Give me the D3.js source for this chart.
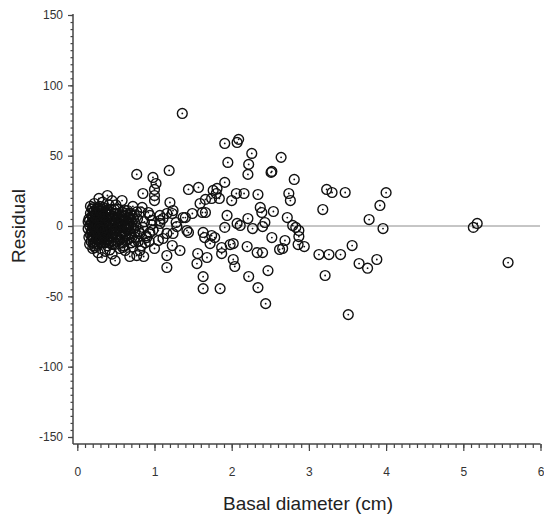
<!DOCTYPE html>
<html>
<head>
<meta charset="utf-8">
<script src="https://cdn.jsdelivr.net/npm/d3@7"></script>
<style>
  body { margin: 0; background: #fff; }
  text { font-family: "Liberation Sans", Arial, sans-serif; }
</style>
</head>
<body>
<svg id="chart" width="544" height="517"></svg>
<script>
'use strict';
var width = 544, height = 517;

// axis ticks
var xTicks = [0, 1, 2, 3, 4, 5, 6],
    yTicks = [-150, -100, -50, 0, 50, 100, 150];

// [basal diameter (cm), residual]
var denseCore = [
  [0.18,2],[0.19,-3],[0.2,6],[0.2,-8],[0.21,10],[0.21,0],[0.22,-5],[0.22,4],[0.23,-11],[0.23,8],
  [0.24,1],[0.24,-2],[0.25,12],[0.25,-7],[0.26,5],[0.26,-13],[0.27,-1],[0.27,9],[0.28,3],[0.28,-9],
  [0.29,-4],[0.29,14],[0.3,0],[0.3,7],[0.31,-6],[0.31,11],[0.32,2],[0.32,-10],[0.33,-2],[0.33,5],
  [0.34,13],[0.34,-8],[0.35,1],[0.35,-4],[0.36,9],[0.36,-12],[0.37,3],[0.37,-1],[0.38,6],[0.38,-6],
  [0.39,-14],[0.39,11],[0.4,0],[0.4,-9],[0.41,4],[0.41,15],[0.42,-3],[0.42,8],[0.43,-7],[0.43,1],
  [0.44,12],[0.44,-11],[0.45,5],[0.45,-2],
  [0.2,-1],[0.22,1],[0.24,-6],[0.26,-3],[0.28,6],[0.3,-7],[0.32,9],[0.34,-1],[0.36,3],[0.38,-10],
  [0.19,7],[0.21,-9],[0.23,3],[0.25,-4],[0.27,13],[0.29,1],[0.31,-12],[0.33,7],[0.35,-7],[0.37,10],
  [0.17,-6],[0.17,9],[0.16,0],[0.16,4],[0.18,-11],[0.19,12],
  [0.14,-2],[0.15,5],[0.15,-8],[0.14,3],[0.16,-13],[0.17,14],
  [0.18,-4],[0.2,3],[0.21,-12],[0.22,11],[0.23,-2],[0.24,6],[0.25,-9],[0.26,1],[0.27,-5],[0.28,11],
  [0.29,-11],[0.3,4],[0.31,-2],[0.32,-6],[0.33,12],[0.34,3],[0.35,-10],[0.36,-3],[0.37,6],[0.38,1],
  [0.39,-5],[0.4,9],[0.41,-12],[0.42,2],[0.43,10],[0.44,-4],[0.45,-8],[0.46,7],[0.46,-13],[0.47,0],
  [0.48,-3],[0.48,12],[0.49,4],[0.5,-6],[0.51,9],[0.52,-1],[0.53,-9],[0.54,2],[0.55,7],[0.57,0],
  [0.19,-7],[0.2,13],[0.22,-14],[0.24,9],[0.26,-10],[0.28,-1],[0.3,10],[0.32,-3],[0.34,7],[0.36,-8],
  [0.55,-3],[0.57,8],[0.58,-8],[0.6,4],[0.61,-4],[0.62,11],[0.64,-10],[0.65,2],[0.67,-6],[0.68,9],
  [0.7,-1],[0.71,-8],[0.73,5],[0.75,-4],[0.77,10],[0.58,3],[0.63,-1],[0.66,6],[0.7,8],[0.74,-11]
];

var clusterEdge = [
  [0.28,19.6],[0.39,21.7],[0.22,16],[0.33,17],[0.45,18],[0.5,15],[0.58,18.1],
  [0.2,-16],[0.23,-15.3],[0.27,-19],[0.32,-22.4],[0.36,-18],[0.42,-17],[0.49,-24.6],[0.45,-20],
  [0.55,-16],[0.59,-15.3],[0.62,-17.4],[0.68,-21.7],[0.77,-21],[0.81,-17.4],[0.86,-21.7],
  [0.47,-5],[0.48,9],[0.49,-13],[0.5,2],[0.51,-8],[0.52,12],[0.53,-1],[0.54,6],[0.55,-10],[0.56,3],
  [0.57,-4],[0.58,10],[0.59,-12],[0.6,0],[0.61,7],[0.62,-7],[0.63,4],[0.64,-2],[0.65,11],[0.66,-9],
  [0.67,1],[0.68,6],[0.69,-5],[0.7,-12],[0.71,3],[0.72,13.9],[0.73,-2],[0.74,8],[0.75,-8],[0.76,0],
  [0.5,-3],[0.53,5],[0.56,-6],[0.6,-14],[0.63,9],[0.66,-1],[0.69,4],[0.47,3],[0.52,-11],
  [0.78,5],[0.8,-4],[0.82,10],[0.84,13.2],[0.85,-1],[0.87,3],[0.89,-7],[0.9,-8.2],[0.92,9.6],[0.94,7.5],
  [0.94,-4.6],[0.96,1],[0.81,-5.3],[0.98,-3],[0.79,-11],[0.83,-14],[0.88,-12],[0.93,-11],[0.97,4],[0.72,-15]
];

var midRange = [
  [0.77,36.7],[1.19,39.5],[0.98,34.5],[1.02,30.2],[1.0,26],[1.0,21.7],[1.0,18.1],[0.85,23.1],
  [1.44,26],[1.57,27.4],[1.76,25.3],[1.8,23.1],[1.74,19.6],[1.84,19.6],[1.81,26.7],[1.66,18.9],
  [1.59,16],[1.2,16.7],[1.24,11],[1.23,8.9],[1.07,7.5],[1.49,8.9],[1.37,6],[1.62,9.6],[1.66,9.6],
  [2.07,1.8],[1.11,5.3],[1.07,1.8],[1.29,-0.4],[1.42,-3.2],[1.44,-4.6],[1.24,-5.3],[1.16,-5.3],
  [1.63,-4.6],[1.65,-8.2],[1.74,-6.8],[1.78,-8.2],[1.72,-12.5],[1.05,-10.3],[1.0,-16],[1.23,-13.9],
  [1.33,-17.4],[1.16,-21],[1.16,-29.5],[1.56,-19.6],[1.68,-22.4],[1.55,-26.7],[1.63,-36],[1.63,-44.5],
  [1.36,80],[1.16,8.9],[1.28,2.5],[1.4,6],[1.07,3.9],[1.05,-3.2],[1.11,-8.9],
  [1.91,58.7],[2.07,59.4],[2.09,61.6],[2.26,51.6],[1.95,45.2],[2.22,43.8],[2.21,36.7],[2.64,48.8],
  [2.52,38.8],[2.51,38.1],[2.81,33.1],[1.91,31],[2.06,23.1],[2.16,23.1],[2.34,22.4],[2.0,18.1],
  [2.74,23.1],[2.76,18.1],[1.94,7.5],[2.37,13.2],[2.39,9.6],[2.54,10.3],[2.72,6],[2.21,5.3],
  [2.43,2.5],[2.11,0.4],[1.91,-1],[2.27,-1.8],[2.4,-0.4],[2.79,0.4],[2.83,-1],[2.87,-3.2],
  [2.87,-7.5],[2.52,-8.2],[2.69,-10.3],[2.86,-13.2],[2.94,-14.6],[2.02,-12.5],[1.98,-13.2],
  [2.2,-14.6],[2.33,-18.9],[2.4,-18.9],[2.62,-16.7],[2.66,-16],[1.87,-15.3],[1.87,-19.6],
  [2.02,-23.8],[2.04,-28.8],[2.47,-31.7],[2.22,-35.9],[2.34,-43.8],[1.85,-44.5],[2.44,-55.2]
];

var largeStems = [
  [4.0,23.7],[3.92,14.6],[3.78,4.6],[3.96,-1.8],[3.56,-13.9],[3.88,-23.8],[3.76,-30],[3.65,-26.7],
  [3.47,23.8],[3.30,23.8],[3.23,26],[3.18,11.7],[3.13,-20.3],[3.26,-20.3],[3.41,-20.3],[3.21,-35.2],
  [3.51,-63],[5.18,1.8],[5.13,-1],[5.58,-26]
];

var observations = denseCore.concat(clusterEdge, midRange, largeStems);

var svg = d3.select('#chart');

var x = d3.scaleLinear().domain([0, 6]).range([77.3, 540.5]),
    y = d3.scaleLinear().domain([-150, 150]).range([437, 15]);

var axisLeftX = 73, axisBottomY = 444;
var axisColor = '#444';
var plainFormat = d => String(d);

// zero reference line
svg.append('line')
   .attr('x1', axisLeftX).attr('x2', 540)
   .attr('y1', y(0)).attr('y2', y(0))
   .attr('stroke', '#8c8c8c')
   .attr('stroke-width', 1);

// points: open circle with a dot in the middle
var pts = svg.append('g')
   .selectAll('g')
   .data(observations)
   .enter()
   .append('g')
   .attr('transform', d => 'translate(' + x(d[0]) + ',' + y(d[1]) + ')');
pts.append('circle')
   .attr('r', 4.9)
   .attr('fill', 'none')
   .attr('stroke', '#111')
   .attr('stroke-width', 1.4);
pts.append('circle')
   .attr('r', 0.9)
   .attr('fill', '#111');

// y axis: minor and major ticks in separate groups
var yMinor = svg.append('g').attr('transform', 'translate(' + axisLeftX + ',0)')
   .call(d3.axisLeft(y).tickValues(d3.range(-150, 151, 5)).tickSize(2.5).tickFormat(''));
var yMajor = svg.append('g').attr('transform', 'translate(' + axisLeftX + ',0)')
   .call(d3.axisLeft(y).tickValues(yTicks).tickSize(5).tickPadding(5).tickFormat(plainFormat));

// x axis
var xMinor = svg.append('g').attr('transform', 'translate(0,' + axisBottomY + ')')
   .call(d3.axisBottom(x).tickValues(d3.range(0, 61, 1).map(v => v / 10)).tickSize(4).tickFormat(''));
var xMajor = svg.append('g').attr('transform', 'translate(0,' + axisBottomY + ')')
   .call(d3.axisBottom(x).tickValues(xTicks).tickSize(7).tickPadding(16).tickFormat(plainFormat));

[yMinor, yMajor, xMinor, xMajor].forEach(function(g){
  g.selectAll('.domain').remove();
  g.selectAll('line').attr('stroke', axisColor).attr('stroke-width', 1.2);
  g.selectAll('text').style('font-size', '12px').attr('fill', '#333');
});

svg.append('line')
   .attr('x1', axisLeftX).attr('x2', axisLeftX)
   .attr('y1', y(150) - 1).attr('y2', axisBottomY)
   .attr('stroke', axisColor).attr('stroke-width', 1.5);
svg.append('line')
   .attr('x1', axisLeftX).attr('x2', 540.5)
   .attr('y1', axisBottomY).attr('y2', axisBottomY)
   .attr('stroke', axisColor).attr('stroke-width', 1.5);

// axis titles
svg.append('text')
   .text('Residual')
   .attr('transform', 'translate(25,' + y(0) + ') rotate(-90)')
   .style('text-anchor', 'middle')
   .style('font-size', '19px')
   .attr('fill', '#222');

svg.append('text')
   .text('Basal diameter (cm)')
   .attr('x', 308)
   .attr('y', 510)
   .style('text-anchor', 'middle')
   .style('font-size', '19px')
   .attr('fill', '#222');
</script>
</body>
</html>
